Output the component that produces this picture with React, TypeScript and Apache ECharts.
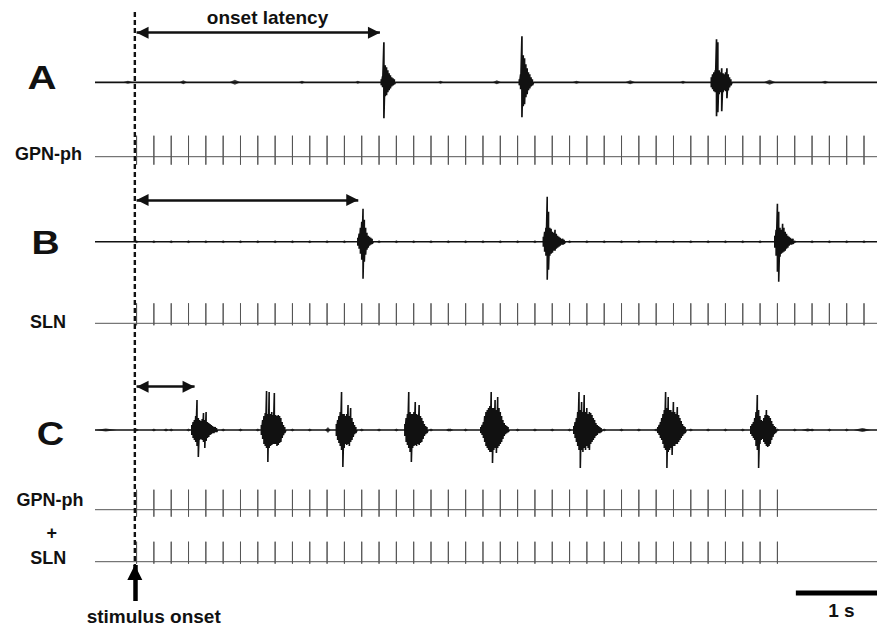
import React, { useEffect, useRef } from "react";
import * as echarts from "echarts";

// ---------- time axis (seconds, 0 = stimulus onset) ----------
const X_MIN = -0.46;
const X_MAX = 8.57;
const SAMPLE_STEP = 0.015; // seconds between burst samples
const STIM_ONSET = 0.0;

// ---------- stimulus pulse trains (s) ----------
const pulseTimesLong = [
  0.02, 0.22, 0.42, 0.62, 0.82, 1.02, 1.22, 1.42, 1.62, 1.82, 2.02, 2.22, 2.42, 2.62, 2.82,
  3.02, 3.22, 3.42, 3.62, 3.82, 4.02, 4.22, 4.42, 4.62, 4.82, 5.02, 5.22, 5.42, 5.62, 5.82,
  6.02, 6.22, 6.42, 6.62, 6.82, 7.02, 7.22, 7.42, 7.62, 7.82, 8.02, 8.22, 8.42,
];
const pulseTimesShort = [
  0.02, 0.22, 0.42, 0.62, 0.82, 1.02, 1.22, 1.42, 1.62, 1.82, 2.02, 2.22, 2.42, 2.62, 2.82,
  3.02, 3.22, 3.42, 3.62, 3.82, 4.02, 4.22, 4.42, 4.62, 4.82, 5.02, 5.22, 5.42, 5.62, 5.82,
  6.02, 6.22, 6.42, 6.62, 6.82, 7.02, 7.22, 7.42,
];
// stimulus artefact amplitude [up, down]
const pulseAmpGpnA = [21, 8];
const pulseAmpSlnB = [20, 2];
const pulseAmpGpnC = [20, 7];
const pulseAmpSlnC = [20, 2];

// ---------- burst onsets (s) and burst samples [max, min] ----------
const burstOnsetsA = [2.846, 4.44, 6.657];
const burstSamplesA = [
  [[3, -3], [6, -5], [40, -36], [17, -14], [15, -13], [12, -10], [9, -8], [7, -6], [5, -4], [4, -3], [3, -2]],
  [[3, -3], [8, -7], [46, -35], [27, -24], [24, -22], [18, -15], [14, -12], [10, -8], [8, -6], [5, -4], [3, -3]],
  [[5, -5], [8, -7], [10, -9], [12, -10], [43, -34], [40, -30], [12, -12], [10, -10], [14, -29], [9, -10], [8, -8], [10, -9], [14, -16], [8, -8], [5, -5], [3, -3]],
];

const burstOnsetsB = [2.575, 4.717, 7.39];
const burstSamplesB = [
  [[4, -4], [8, -7], [14, -12], [20, -18], [33, -37], [22, -20], [14, -13], [9, -8], [6, -6], [5, -4], [4, -3], [3, -2]],
  [[5, -5], [10, -10], [14, -14], [45, -38], [30, -28], [14, -14], [13, -12], [10, -11], [9, -9], [12, -9], [8, -7], [6, -6], [5, -5], [4, -4], [3, -3], [3, -3], [2, -2]],
  [[6, -6], [12, -14], [38, -30], [30, -40], [14, -15], [12, -12], [18, -11], [14, -10], [10, -9], [8, -7], [6, -6], [5, -4], [4, -3], [3, -3], [3, -2]],
];

const burstOnsetsC = [0.658, 1.461, 2.327, 3.118, 3.995, 5.069, 6.039, 7.113];
const burstSamplesC = [
  [[5, -5], [8, -8], [10, -10], [14, -12], [30, -16], [12, -27], [10, -10], [9, -9], [11, -10], [17, -12], [10, -18], [18, -11], [8, -8], [7, -7], [6, -5], [5, -4], [4, -3], [3, -3], [3, -2], [2, -2]],
  [[5, -5], [10, -9], [14, -14], [17, -16], [39, -18], [16, -32], [38, -18], [16, -16], [18, -15], [15, -14], [37, -14], [15, -14], [14, -16], [15, -15], [14, -13], [12, -12], [8, -8], [5, -5], [3, -3]],
  [[6, -6], [10, -10], [14, -13], [18, -16], [38, -20], [16, -37], [16, -18], [14, -14], [16, -15], [25, -14], [14, -16], [22, -12], [12, -10], [8, -7], [5, -4], [3, -3]],
  [[6, -6], [12, -12], [16, -15], [38, -18], [18, -22], [16, -32], [16, -18], [18, -16], [28, -15], [16, -16], [15, -14], [25, -15], [14, -13], [12, -12], [9, -9], [6, -6], [4, -4], [3, -3]],
  [[3, -3], [5, -5], [8, -8], [14, -12], [18, -16], [20, -18], [22, -20], [24, -22], [38, -22], [22, -33], [22, -20], [30, -18], [20, -23], [33, -18], [22, -16], [18, -14], [14, -12], [10, -9], [7, -6], [5, -4], [4, -3], [3, -2]],
  [[4, -4], [8, -8], [12, -12], [18, -16], [38, -20], [20, -38], [28, -20], [18, -22], [35, -18], [18, -20], [22, -16], [16, -18], [18, -20], [17, -14], [15, -12], [12, -10], [10, -8], [7, -6], [5, -5], [4, -3], [3, -3], [2, -2]],
  [[3, -3], [5, -5], [8, -8], [12, -10], [16, -14], [20, -18], [38, -20], [22, -38], [33, -22], [20, -20], [20, -18], [18, -25], [28, -16], [18, -16], [16, -14], [23, -14], [15, -12], [12, -10], [9, -8], [6, -6], [4, -4], [3, -3]],
  [[4, -4], [6, -6], [8, -8], [12, -10], [18, -16], [35, -20], [20, -38], [14, -14], [10, -10], [9, -9], [12, -12], [15, -14], [20, -16], [15, -17], [14, -16], [12, -14], [9, -10], [6, -7], [4, -4], [3, -3]],
];

// small baseline bumps: [time s, amplitude, duration s]
const blipsA = [
  [-0.08, 1.5, 0.12], [0.56, 2, 0.09], [1.155, 2.5, 0.13], [1.93, 1.5, 0.08], [2.575, 1.5, 0.07],
  [3.53, 1.5, 0.07], [4.18, 2, 0.1], [5.1, 1.5, 0.1], [5.72, 2, 0.12], [6.33, 1.5, 0.08],
  [7.33, 2.5, 0.14], [7.97, 1.5, 0.1],
];
const blipsC = [
  [-0.335, 1.5, 0.25], [0.36, 1.5, 0.06], [2.23, 3, 0.06], [3.64, 1.5, 0.08], [7.77, 1.5, 0.15], [8.4, 2, 0.2],
];
const artefactAmp = 1.5;

// annotations
const onsetLatencies = [2.83, 2.58, 0.69];
const scaleBarStart = 7.633;
const scaleBarLength = 1;

// ---------- layout ----------
const GRID_LEFT = 95;
const GRID_WIDTH = 782;
const PX_PER_S = GRID_WIDTH / (X_MAX - X_MIN);
const traceRows = [
  { center: 82.3, half: 50 }, // A
  { center: 156.7, half: 25 }, // GPN-ph
  { center: 241.7, half: 50 }, // B
  { center: 323.3, half: 25 }, // SLN
  { center: 430, half: 50 }, // C
  { center: 509.7, half: 25 }, // GPN-ph
  { center: 561.7, half: 25 }, // SLN
];
const arrowRowsY = [32.7, 200, 386.7];
const ARROW_HEAD = 12;
const ONSET_HEAD = 15;

function traceData(onsets: number[], samples: number[][][]) {
  const pts: number[][] = [[X_MIN, 0]];
  onsets.forEach((t0, b) => {
    pts.push([t0, 0]);
    samples[b].forEach(([hi, lo], i) => {
      const t = t0 + i * SAMPLE_STEP;
      pts.push([t, hi], [t, lo]);
    });
    pts.push([t0 + samples[b].length * SAMPLE_STEP, 0]);
  });
  pts.push([X_MAX, 0]);
  return pts;
}

function pulseData(times: number[], amp: number[]) {
  const pts: number[][] = [[X_MIN, 0]];
  times.forEach((t) => {
    pts.push([t, 0], [t, amp[0]], [t, -amp[1]], [t, 0]);
  });
  pts.push([X_MAX, 0]);
  return pts;
}

const FONT = '"Liberation Sans", Arial, Helvetica, sans-serif';

function buildOption() {
  const grids: any[] = [{ left: GRID_LEFT, width: GRID_WIDTH, top: 0, height: 630 }];
  const xAxes: any[] = [{ gridIndex: 0, type: "value", min: X_MIN, max: X_MAX, show: false }];
  const yAxes: any[] = [{ gridIndex: 0, type: "value", min: 0, max: 630, inverse: true, show: false }];
  traceRows.forEach((r, i) => {
    grids.push({ left: GRID_LEFT, width: GRID_WIDTH, top: r.center - r.half, height: r.half * 2 });
    xAxes.push({ gridIndex: i + 1, type: "value", min: X_MIN, max: X_MAX, show: false });
    yAxes.push({ gridIndex: i + 1, type: "value", min: -r.half, max: r.half, show: false });
  });

  const lineBase = {
    type: "line",
    symbol: "none",
    showSymbol: false,
    silent: true,
    animation: false,
  };

  const recTrace = (idx: number, onsets: number[], samples: number[][][], width: number) => ({
    ...lineBase,
    xAxisIndex: idx,
    yAxisIndex: idx,
    data: traceData(onsets, samples),
    lineStyle: { color: "#111", width },
  });
  const stimTrace = (idx: number, times: number[], amp: number[]) => ({
    ...lineBase,
    xAxisIndex: idx,
    yAxisIndex: idx,
    data: pulseData(times, amp),
    lineStyle: { color: "#555", width: 1 },
  });
  const blipSeries = (idx: number, blips: number[][]) => ({
    type: "scatter",
    xAxisIndex: idx,
    yAxisIndex: idx,
    silent: true,
    symbol: "diamond",
    data: blips.map((b) => [b[0], 0, b[1], b[2]]),
    symbolSize: (v: number[]) => [v[3] * PX_PER_S, v[2] * 2],
    itemStyle: { color: "#1a1a1a" },
  });
  const artefactSeries = (idx: number, times: number[]) => ({
    type: "scatter",
    xAxisIndex: idx,
    yAxisIndex: idx,
    silent: true,
    symbol: "diamond",
    data: times.map((t) => [t, 0]),
    symbolSize: [artefactAmp * 3, artefactAmp * 2],
    itemStyle: { color: "#222" },
  });

  const series: any[] = [
    recTrace(1, burstOnsetsA, burstSamplesA, 1.7),
    blipSeries(1, blipsA),
    stimTrace(2, pulseTimesLong, pulseAmpGpnA),
    recTrace(3, burstOnsetsB, burstSamplesB, 1.6),
    artefactSeries(3, pulseTimesLong),
    stimTrace(4, pulseTimesLong, pulseAmpSlnB),
    recTrace(5, burstOnsetsC, burstSamplesC, 1.6),
    blipSeries(5, blipsC),
    artefactSeries(5, pulseTimesLong),
    stimTrace(6, pulseTimesShort, pulseAmpGpnC),
    stimTrace(7, pulseTimesShort, pulseAmpSlnC),
    // stimulus onset dashed line
    {
      ...lineBase,
      xAxisIndex: 0,
      yAxisIndex: 0,
      data: [
        [STIM_ONSET, 12],
        [STIM_ONSET, 566],
      ],
      lineStyle: { color: "#111", width: 2.4, type: [5, 3] },
    },
    // scale bar
    {
      ...lineBase,
      xAxisIndex: 0,
      yAxisIndex: 0,
      clip: true,
      data: [
        [scaleBarStart, 593],
        [scaleBarStart + scaleBarLength, 593],
      ],
      lineStyle: { color: "#000", width: 5, cap: "butt" },
    },
    // latency arrows
    {
      ...lineBase,
      xAxisIndex: 0,
      yAxisIndex: 0,
      data: [],
      markLine: {
        silent: true,
        animation: false,
        symbol: ["triangle", "triangle"],
        symbolSize: ARROW_HEAD,
        symbolOffset: [
          [0, ARROW_HEAD / 2],
          [0, ARROW_HEAD / 2],
        ],
        label: { show: false },
        emphasis: { disabled: true },
        lineStyle: { color: "#111", width: 2.5, type: "solid" },
        data: onsetLatencies.map((lat, i) => [
          { coord: [pulseTimesLong[0], arrowRowsY[i]] },
          { coord: [lat, arrowRowsY[i]] },
        ]),
      },
    },
    // stimulus onset arrow
    {
      ...lineBase,
      xAxisIndex: 0,
      yAxisIndex: 0,
      data: [],
      markLine: {
        silent: true,
        animation: false,
        symbol: ["none", "triangle"],
        symbolSize: ONSET_HEAD,
        symbolOffset: [
          [0, 0],
          [0, ONSET_HEAD / 2],
        ],
        label: { show: false },
        emphasis: { disabled: true },
        lineStyle: { color: "#000", width: 4.5, type: "solid" },
        data: [[{ coord: [STIM_ONSET, 601] }, { coord: [STIM_ONSET, 565] }]],
      },
    },
  ];

  const txt = (text: string, x: number, y: number, size: number, scaleX = 1) => ({
    type: "text",
    x,
    y,
    scaleX,
    silent: true,
    style: {
      text,
      font: `bold ${size}px ${FONT}`,
      fill: "#111",
      textAlign: "center",
      textVerticalAlign: "middle",
    },
  });

  return {
    animation: false,
    backgroundColor: "#fff",
    grid: grids,
    xAxis: xAxes,
    yAxis: yAxes,
    series,
    graphic: [
      txt("onset latency", 267.5, 17.5, 19),
      txt("A", 42, 77.5, 33, 1.22),
      txt("B", 45.5, 243, 33, 1.18),
      txt("C", 50.5, 434, 33, 1.15),
      txt("GPN-ph", 48.5, 153.5, 18),
      txt("SLN", 48, 322.3, 18),
      txt("GPN-ph", 50, 500.3, 18),
      txt("+", 51.7, 533, 18),
      txt("SLN", 48.3, 558, 18),
      txt("stimulus onset", 153.7, 616.7, 19),
      txt("1 s", 841.4, 610, 19),
    ],
  };
}

export default function App() {
  const ref = useRef<HTMLDivElement>(null);
  useEffect(() => {
    if (!ref.current) return;
    const chart = echarts.init(ref.current, null, { renderer: "svg" });
    chart.setOption(buildOption() as any);
    return () => chart.dispose();
  }, []);
  return (
    <div
      ref={ref}
      style={{ position: "absolute", left: 0, top: 0, width: 877, height: 630, background: "#fff" }}
    />
  );
}
